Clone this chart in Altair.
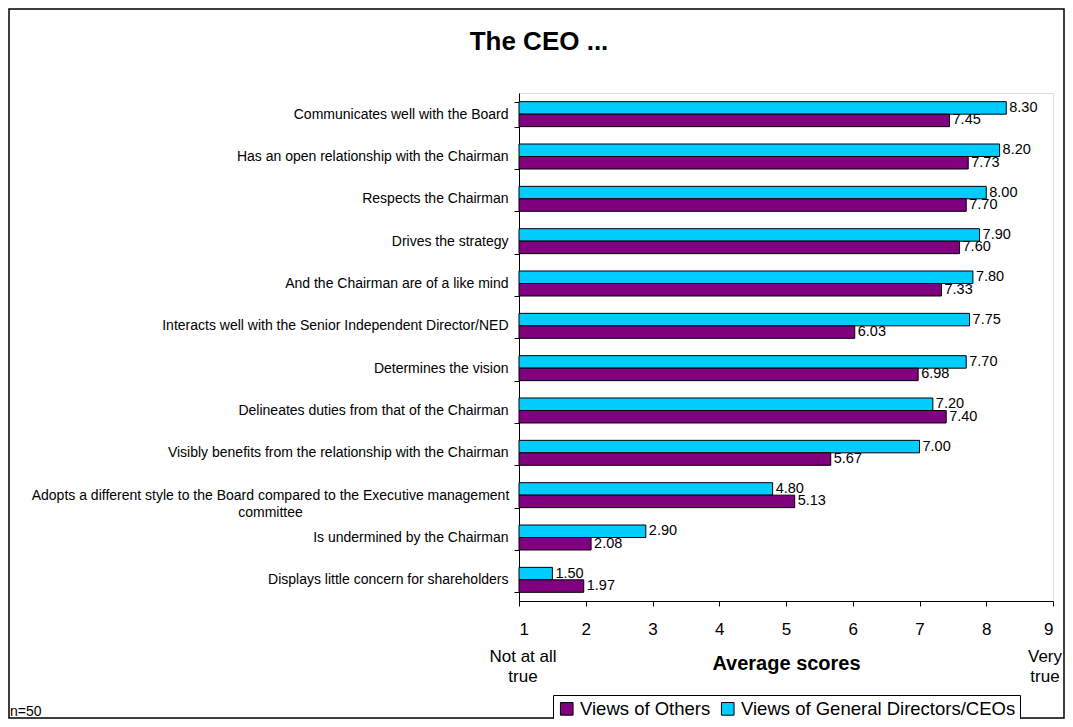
import altair as alt
import pandas as pd

categories = [
    "Communicates well with the Board",
    "Has an open relationship with the Chairman",
    "Respects the Chairman",
    "Drives the strategy",
    "And the Chairman are of a like mind",
    "Interacts well with the Senior Independent Director/NED",
    "Determines the vision",
    "Delineates duties from that of the Chairman",
    "Visibly benefits from the relationship with the Chairman",
    "Adopts a different style to the Board compared to the Executive management|committee",
    "Is undermined by the Chairman",
    "Displays little concern for shareholders",
]
ceo_values = [8.30, 8.20, 8.00, 7.90, 7.80, 7.75, 7.70, 7.20, 7.00, 4.80, 2.90, 1.50]
others_values = [7.45, 7.73, 7.70, 7.60, 7.33, 6.03, 6.98, 7.40, 5.67, 5.13, 2.08, 1.97]
series_names = ["Views of Others", "Views of General Directors/CEOs"]
series_colors = ["#800080", "#00CCFF"]
scale_min, scale_max = 1, 9
end_labels = ["Not at all|true", "Very|true"]
title_text = "The CEO ..."
note_text = "n=50"

rows = []
for c, v_ceo, v_oth in zip(categories, ceo_values, others_values):
    rows.append({"cat": c, "series": series_names[1], "value": v_ceo, "base": scale_min})
    rows.append({"cat": c, "series": series_names[0], "value": v_oth, "base": scale_min})
df = pd.DataFrame(rows)

FONT = "Liberation Sans"
W, H = 534, 508
PAD = {"left": 511, "top": 85, "right": 12, "bottom": 118}

adopts = categories[9]

y_enc = alt.Y(
    "cat:N",
    sort=categories,
    scale=alt.Scale(paddingInner=0.41, paddingOuter=0.205),
    axis=alt.Axis(
        title=None,
        labelExpr="split(datum.label, '|')",
        labelFont=FONT,
        labelFontSize=14,
        labelColor="black",
        labelLineHeight=17,
        labelAlign=alt.condition(f"datum.value == '{adopts}'", alt.value("center"), alt.value("right")),
        labelPadding=alt.condition(f"datum.value == '{adopts}'", alt.value(244), alt.value(6)),
        labelLimit=0,
        tickBand="extent",
        tickSize=5,
        tickColor="black",
        domainColor="black",
    ),
)
yoff = alt.YOffset("series:N", sort=[series_names[1], series_names[0]],
                   scale=alt.Scale(paddingInner=0, paddingOuter=0))

x_scale = alt.Scale(domain=[scale_min, scale_max], zero=False, nice=False)

bars = alt.Chart(df).mark_bar(stroke="black", strokeWidth=1).encode(
    x=alt.X(
        "value:Q",
        scale=x_scale,
        axis=alt.Axis(
            title="Average scores",
            titleFont=FONT,
            titleFontSize=20,
            titleFontWeight="bold",
            titleColor="black",
            titleY=62,
            titleBaseline="middle",
            values=list(range(scale_min, scale_max + 1)),
            format="d",
            labelFont=FONT,
            labelFontSize=17,
            labelColor="black",
            labelPadding=15,
            tickSize=5,
            tickColor="black",
            domainColor="black",
            grid=False,
        ),
    ),
    x2="base:Q",
    y=y_enc,
    yOffset=yoff,
    color=alt.Color(
        "series:N",
        scale=alt.Scale(domain=series_names, range=series_colors),
        legend=alt.Legend(
            title=None,
            orient="none",
            legendX=34,
            legendY=602,
            direction="horizontal",
            symbolType="square",
            symbolSize=160,
            symbolStrokeColor="black",
            symbolStrokeWidth=1,
            labelFont=FONT,
            labelFontSize=18.5,
            labelColor="black",
            labelOffset=4,
            labelLimit=0,
            columnPadding=8,
            strokeColor="black",
            padding=4.5,
            fillColor="white",
        ),
    ),
)

labels = alt.Chart(df).mark_text(
    align="left", baseline="middle", dx=3, font=FONT, fontSize=14.5, color="black"
).encode(
    x=alt.X("value:Q", scale=x_scale),
    y=alt.Y("cat:N", sort=categories),
    yOffset=yoff,
    text=alt.Text("value:Q", format=".2f"),
)

ends_df = pd.DataFrame({"x": [scale_min, scale_max], "label": end_labels})
ends_left = alt.Chart(ends_df.iloc[[0]]).mark_text(
    align="center", baseline="middle", font=FONT, fontSize=17, color="black",
    lineBreak="|", lineHeight=20, dx=4,
).encode(
    x=alt.X("x:Q", scale=x_scale),
    y=alt.value(H + 56),
    text="label:N",
)
ends_right = alt.Chart(ends_df.iloc[[1]]).mark_text(
    align="center", baseline="middle", font=FONT, fontSize=17, color="black",
    lineBreak="|", lineHeight=20, dx=-8,
).encode(
    x=alt.X("x:Q", scale=x_scale),
    y=alt.value(H + 56),
    text="label:N",
)

title = alt.Chart(pd.DataFrame({"t": [title_text]})).mark_text(
    align="center", baseline="middle", font=FONT, fontSize=26, fontWeight="bold", color="black"
).encode(x=alt.value(20), y=alt.value(-51), text="t:N")

note = alt.Chart(pd.DataFrame({"t": [note_text]})).mark_text(
    align="left", baseline="middle", font=FONT, fontSize=14, color="black"
).encode(x=alt.value(-509), y=alt.value(619), text="t:N")

frame = alt.Chart(pd.DataFrame({"a": [0]})).mark_rect(
    fill=None, fillOpacity=0, stroke="black", strokeWidth=1.5
).encode(
    x=alt.value(-PAD["left"] + 1),
    x2=alt.value(W + PAD["right"] - 1),
    y=alt.value(-PAD["top"] + 1),
    y2=alt.value(H + PAD["bottom"] - 1),
)

chart = alt.layer(frame, bars, labels, ends_left, ends_right, title, note).properties(
    width=W,
    height=H,
    padding=PAD,
    autosize=alt.AutoSizeParams(type="none"),
).configure_view(stroke=None).configure(background="white")

chart.save("out.html", embed_options={"renderer": "svg", "actions": False})
